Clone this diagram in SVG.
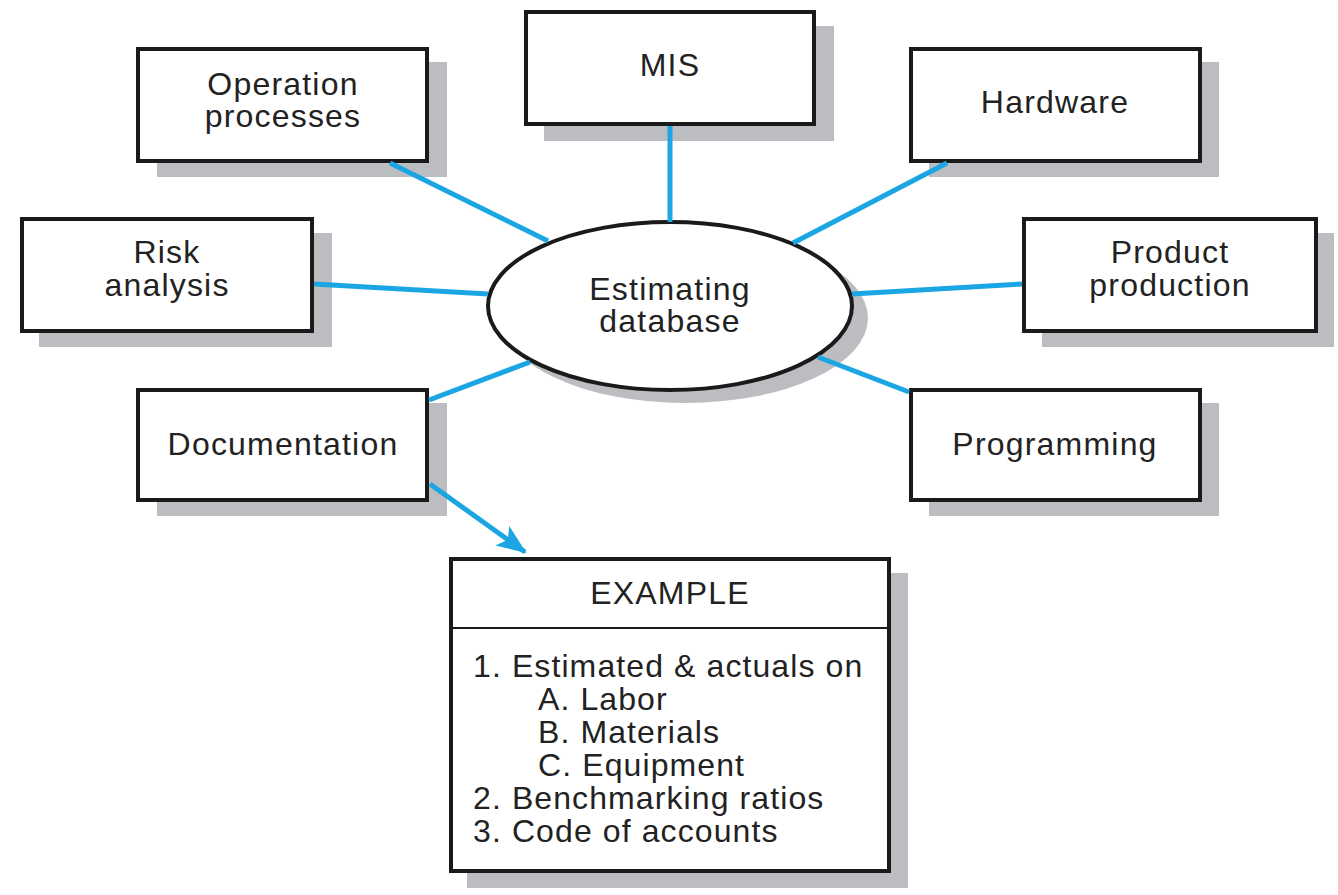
<svg xmlns="http://www.w3.org/2000/svg" width="1338" height="895" viewBox="0 0 1338 895">
<defs>
<style>
.sh{fill:#bcbdc0}
.bx{fill:#fff;stroke:#1a1a1a;stroke-width:4}
.t{font-family:"Liberation Sans",Arial,sans-serif;font-size:32px;fill:#222;text-anchor:middle;letter-spacing:1.2px}
.tl{font-family:"Liberation Sans",Arial,sans-serif;font-size:32px;fill:#222;letter-spacing:1.1px}
.c{stroke:#1ba6e3;stroke-width:5;fill:none}
</style>
<marker id="ah2" markerWidth="30" markerHeight="24" refX="28" refY="12" orient="auto" markerUnits="userSpaceOnUse">
<path d="M0,0 L30,12 L0,24 L7,12 Z" fill="#1ba6e3"/>
</marker>
</defs>
<rect width="1338" height="895" fill="#fff"/>
<g id="center">
<ellipse cx="685" cy="318" rx="183" ry="85" class="sh"/>
<ellipse cx="670" cy="306" rx="182" ry="84" class="bx"/>
<text class="t" x="670" y="300">Estimating</text>
<text class="t" x="670" y="332">database</text>
</g>
<g id="operation">
<rect x="157" y="62" width="290" height="115" class="sh"/>
<rect x="138" y="49" width="289" height="112" class="bx"/>
<text class="t" x="283" y="95">Operation</text>
<text class="t" x="283" y="127">processes</text>
</g>
<g id="mis">
<rect x="544" y="26" width="290" height="115" class="sh"/>
<rect x="526" y="12" width="288" height="112" class="bx"/>
<text class="t" x="670" y="76">MIS</text>
</g>
<g id="hardware">
<rect x="929" y="62" width="290" height="115" class="sh"/>
<rect x="911" y="49" width="289" height="112" class="bx"/>
<text class="t" x="1055" y="113">Hardware</text>
</g>
<g id="risk">
<rect x="39" y="233" width="293" height="114" class="sh"/>
<rect x="22" y="219" width="290" height="112" class="bx"/>
<text class="t" x="167" y="263">Risk</text>
<text class="t" x="167" y="296">analysis</text>
</g>
<g id="product">
<rect x="1042" y="233" width="292" height="114" class="sh"/>
<rect x="1024" y="219" width="292" height="112" class="bx"/>
<text class="t" x="1170" y="263">Product</text>
<text class="t" x="1170" y="296">production</text>
</g>
<g id="documentation">
<rect x="157" y="403" width="290" height="113" class="sh"/>
<rect x="138" y="390" width="289" height="110" class="bx"/>
<text class="t" x="283" y="455">Documentation</text>
</g>
<g id="programming">
<rect x="929" y="403" width="290" height="113" class="sh"/>
<rect x="911" y="390" width="289" height="110" class="bx"/>
<text class="t" x="1055" y="455">Programming</text>
</g>
<g id="example">
<rect x="467" y="573" width="441" height="315" class="sh"/>
<rect x="451" y="559" width="438" height="312" class="bx"/>
<line x1="451" y1="628" x2="889" y2="628" stroke="#1a1a1a" stroke-width="2"/>
<text class="t" x="670" y="604">EXAMPLE</text>
<text class="tl" x="473" y="677">1. Estimated &amp; actuals on</text>
<text class="tl" x="538" y="710">A. Labor</text>
<text class="tl" x="538" y="743">B. Materials</text>
<text class="tl" x="538" y="776">C. Equipment</text>
<text class="tl" x="473" y="809">2. Benchmarking ratios</text>
<text class="tl" x="473" y="842">3. Code of accounts</text>
</g>
<g id="connectors">
<line class="c" x1="390" y1="163" x2="548" y2="241"/>
<line class="c" x1="670" y1="126" x2="670" y2="222"/>
<line class="c" x1="947" y1="163" x2="793" y2="243"/>
<line class="c" x1="314" y1="284" x2="488" y2="294"/>
<line class="c" x1="1022" y1="284" x2="852" y2="294"/>
<line class="c" x1="429" y1="400" x2="530" y2="362"/>
<line class="c" x1="909" y1="392" x2="818" y2="357"/>
<line class="c" x1="430" y1="484" x2="525" y2="552" marker-end="url(#ah2)"/>
</g>
</svg>
